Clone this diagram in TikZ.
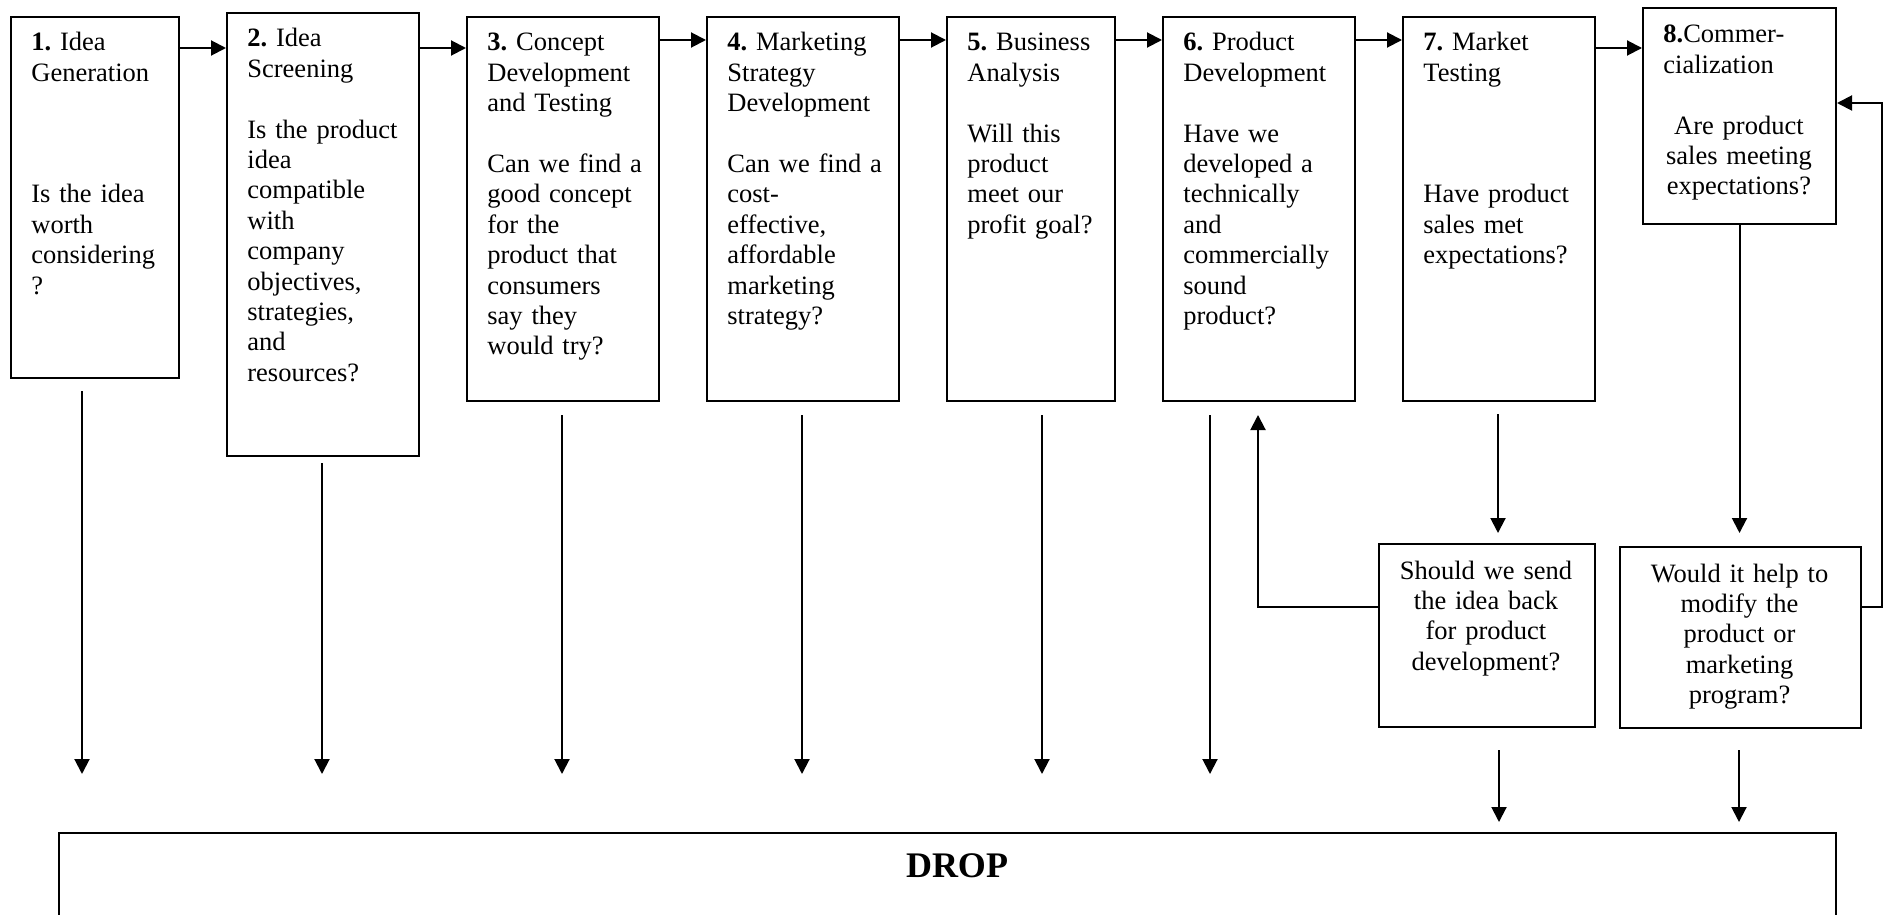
\documentclass[tikz,border=0pt]{standalone}
\usepackage{fontspec}
\setmainfont{Liberation Serif}
\usetikzlibrary{arrows.meta}
\frenchspacing
\begin{document}
\begin{tikzpicture}[x=0.5pt, y=-0.5pt,
  stagebox/.style={draw, line width=1pt, inner sep=0pt, anchor=north west},
  body/.style={inner sep=0pt, text width=#1, align=left, anchor=base west,
      font=\fontsize{13.25}{15.2}\selectfont},
  cbody/.style={inner sep=0pt, text width=#1, align=center, anchor=base,
      font=\fontsize{13.25}{15.2}\selectfont},
  link/.style={line width=1pt, -{Triangle[length=7.5pt,width=7.5pt]}},
  plain/.style={line width=1pt}]
\useasboundingbox (0,0) rectangle (1885,915);
\clip (0,0) rectangle (1885,915);

% stage boxes
\node[stagebox, minimum width=84.25pt, minimum height=180.5pt] (b1) at (9.5,16) {};
\node[stagebox, minimum width=96pt, minimum height=221.5pt] (b2) at (226,12) {};
\node[stagebox, minimum width=96pt, minimum height=192pt] (b3) at (466,16) {};
\node[stagebox, minimum width=96pt, minimum height=192pt] (b4) at (706,16) {};
\node[stagebox, minimum width=84pt, minimum height=192pt] (b5) at (946,16) {};
\node[stagebox, minimum width=96pt, minimum height=192pt] (b6) at (1162,16) {};
\node[stagebox, minimum width=96pt, minimum height=192pt] (b7) at (1402,16) {};
\node[stagebox, minimum width=96.5pt, minimum height=108pt] (b8) at (1642,7) {};
\node[stagebox, minimum width=108pt, minimum height=91.5pt] (q7) at (1378,543) {};
\node[stagebox, minimum width=120.5pt, minimum height=90.5pt] (q8) at (1619,546) {};
\node[stagebox, minimum width=888.5pt, minimum height=80pt] (drop) at (58,832) {};

% stage texts
\node[body=80pt] (t1) at (31,51) {\textbf{1.} Idea\\Generation\\[45.6pt]Is the idea\\worth\\considering\\?};
\node[body=86pt] (t2) at (247,47) {\textbf{2.} Idea\\Screening\\[15.2pt]Is the product\\idea\\compatible\\with\\company\\objectives,\\strategies,\\and\\resources?};
\node[body=86pt] (t3) at (487,51) {\textbf{3.} Concept\\Development\\and Testing\\[15.2pt]Can we find a\\good concept\\for the\\product that\\consumers\\say they\\would try?};
\node[body=86pt] (t4) at (727,51) {\textbf{4.} Marketing\\Strategy\\Development\\[15.2pt]Can we find a\\cost-\\effective,\\affordable\\marketing\\strategy?};
\node[body=80pt] (t5) at (967,51) {\textbf{5.} Business\\Analysis\\[15.2pt]Will this\\product\\meet our\\profit goal?};
\node[body=86pt] (t6) at (1183,51) {\textbf{6.} Product\\Development\\[15.2pt]Have we\\developed a\\technically\\and\\commercially\\sound\\product?};
\node[body=86pt] (t7) at (1423,51) {\textbf{7.} Market\\Testing\\[45.6pt]Have product\\sales met\\expectations?};
\node[body=75.5pt] (t8) at (1663,43) {\textbf{8.}Commer-\\cialization\par\vspace{15.2pt}{\centering Are product\\sales meeting\\expectations?\par}};
\node[cbody=104pt] (tq7) at (1486,579) {Should we send\\the idea back\\for product\\development?};
\node[cbody=116pt] (tq8) at (1739.5,582) {Would it help to\\modify the\\product or\\marketing\\program?};
\node[inner sep=0pt, anchor=base, font=\fontsize{18}{21}\selectfont\bfseries] (tdrop) at (957,877) {DROP};

% forward flow between stages
\coordinate (h48) at (0,48);
\coordinate (h40) at (0,40);
\draw[link] (b1.east |- h48) -- (b2.west |- h48);
\draw[link] (b2.east |- h48) -- (b3.west |- h48);
\draw[link] (b3.east |- h40) -- (b4.west |- h40);
\draw[link] (b4.east |- h40) -- (b5.west |- h40);
\draw[link] (b5.east |- h40) -- (b6.west |- h40);
\draw[link] (b6.east |- h40) -- (b7.west |- h40);
\draw[link] (b7.east |- h48) -- (b8.west |- h48);

% drop-out arrows
\coordinate (s1) at (82,391);   \coordinate (e1) at (82,774);
\coordinate (s2) at (322,463);  \coordinate (e2) at (322,774);
\coordinate (s3) at (562,415);  \coordinate (e3) at (562,774);
\coordinate (s4) at (802,415);  \coordinate (e4) at (802,774);
\coordinate (s5) at (1042,415); \coordinate (e5) at (1042,774);
\coordinate (s6) at (1210,415); \coordinate (e6) at (1210,774);
\draw[link] (s1) -- (e1);
\draw[link] (s2) -- (e2);
\draw[link] (s3) -- (e3);
\draw[link] (s4) -- (e4);
\draw[link] (s5) -- (e5);
\draw[link] (s6) -- (e6);

% decision branches
\coordinate (s7) at (1498,414); \coordinate (e7) at (1498,533);
\draw[link] (s7) -- (e7);
\draw[link] (b8.south) -- (b8.south |- e7);

\coordinate (mid) at (0,607);
\coordinate (fb6) at (1258,415);
\coordinate (fr) at (1882,103);
\draw[link] (q7.west |- mid) -| (fb6);
\draw[link] (q8.east |- mid) -| (fr) -- (b8.east |- fr);

\coordinate (qs7) at (1499,750); \coordinate (qe7) at (1499,822);
\coordinate (qs8) at (1739,750); \coordinate (qe8) at (1739,822);
\draw[link] (qs7) -- (qe7);
\draw[link] (qs8) -- (qe8);
\end{tikzpicture}
\end{document}
